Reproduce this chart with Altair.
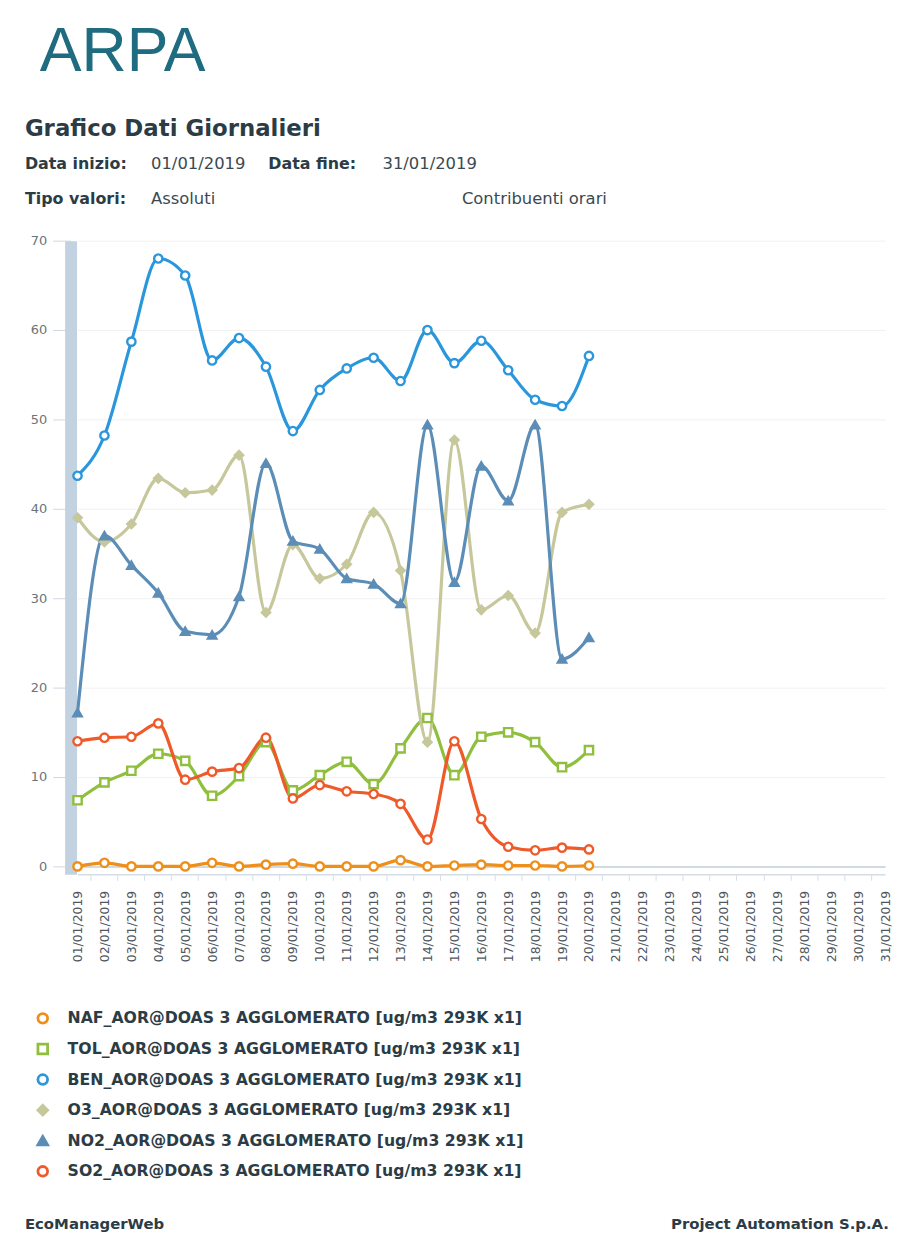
import altair as alt
import pandas as pd

# ---------------- data ----------------
days = [f"{d:02d}/01/2019" for d in range(1, 32)]

series_names = [
    "NAF_AOR@DOAS 3 AGGLOMERATO [ug/m3 293K x1]",
    "TOL_AOR@DOAS 3 AGGLOMERATO [ug/m3 293K x1]",
    "BEN_AOR@DOAS 3 AGGLOMERATO [ug/m3 293K x1]",
    "O3_AOR@DOAS 3 AGGLOMERATO [ug/m3 293K x1]",
    "NO2_AOR@DOAS 3 AGGLOMERATO [ug/m3 293K x1]",
    "SO2_AOR@DOAS 3 AGGLOMERATO [ug/m3 293K x1]",
]

naf = [0.0, 0.4, 0.0, 0.0, 0.0, 0.4, 0.0, 0.2, 0.3, 0.0,
       0.0, 0.0, 0.7, 0.0, 0.1, 0.2, 0.1, 0.1, 0.0, 0.1]
tol = [7.4, 9.4, 10.7, 12.6, 11.8, 7.9, 10.1, 13.9, 8.5, 10.2,
       11.7, 9.2, 13.2, 16.6, 10.2, 14.5, 15.0, 13.9, 11.1, 13.0]
ben = [43.7, 48.2, 58.7, 68.0, 66.1, 56.6, 59.1, 55.9, 48.7, 53.3,
       55.7, 56.9, 54.3, 60.0, 56.3, 58.8, 55.5, 52.2, 51.5, 57.1]
o3 = [39.0, 36.3, 38.3, 43.4, 41.8, 42.1, 46.0, 28.4, 36.0, 32.2,
      33.8, 39.6, 33.1, 13.9, 47.7, 28.7, 30.3, 26.1, 39.6, 40.5]
no2 = [17.2, 37.0, 33.7, 30.6, 26.3, 25.9, 30.2, 45.1, 36.4, 35.5,
       32.2, 31.6, 29.4, 49.4, 31.8, 44.8, 40.9, 49.4, 23.2, 25.6]
so2 = [14.0, 14.4, 14.5, 16.0, 9.7, 10.6, 11.0, 14.4, 7.6, 9.1,
       8.4, 8.1, 7.0, 3.0, 14.0, 5.3, 2.2, 1.8, 2.1, 1.9]

series_values = [naf, tol, ben, o3, no2, so2]

y_ticks = [0, 10, 20, 30, 40, 50, 60, 70]

logo_text = "ARPA"
title_text = "Grafico Dati Giornalieri"
start_label = "Data inizio:"
start_value = "01/01/2019"
end_label = "Data fine:"
end_value = "31/01/2019"
type_label = "Tipo valori:"
type_value = "Assoluti"
contrib_text = "Contribuenti orari"
footer_left = "EcoManagerWeb"
footer_right = "Project Automation S.p.A."

# ---------------- styling ----------------
colors = ["#ee8f1b", "#8fbf3c", "#2a96dc", "#c6c89c", "#5b8db7", "#ef5a2a"]
fills = ["#ffffff", "#ffffff", "#ffffff", "#c6c89c", "#5b8db7", "#ffffff"]
shapes = ["circle", "square", "circle", "diamond", "triangle-up", "circle"]

FONT = "DejaVu Sans"
DARK = "#2c3c45"
VALUE = "#3b4a52"

rows = []
for name, vals in zip(series_names, series_values):
    for d, v in zip(days, vals):
        rows.append({"day": d, "value": v, "series": name})
df = pd.DataFrame(rows)
legend_df = pd.DataFrame({"series": series_names})

stroke_scale = alt.Scale(domain=series_names, range=colors)
fill_scale = alt.Scale(domain=series_names, range=fills)
shape_scale = alt.Scale(domain=series_names, range=shapes)

x_enc = alt.X(
    "day:O",
    scale=alt.Scale(type="point", domain=days, range=[7, 820], padding=0),
    axis=alt.Axis(
        title=None, labelAngle=270, labelFont=FONT, labelFontSize=12.5,
        labelColor="#4f585e", labelPadding=10, domainColor="#d5dee7",
        domainWidth=1.5, tickColor="#d5dee7", tickSize=6,
        tickOffset=13, labelOffset=-13, grid=False,
    ),
)
y_enc = alt.Y(
    "value:Q",
    scale=alt.Scale(domain=[-0.889, 70], nice=False, zero=False),
    axis=alt.Axis(
        title=None, values=y_ticks, labelFont=FONT, labelFontSize=13,
        labelColor="#6b7378", labelPadding=6, tickSize=18,
        tickColor="#cfd8e1", domainColor="#c3d2e1", domainWidth=12,
        grid=True,
        gridColor={"condition": {"test": "datum.value === 0", "value": "#cfdae5"},
                   "value": "#f1f1f1"},
        gridWidth={"condition": {"test": "datum.value === 0", "value": 2},
                   "value": 1},
    ),
)

lines = alt.Chart(df).mark_line(interpolate="monotone", strokeWidth=3.2).encode(
    x=x_enc, y=y_enc,
    color=alt.Color("series:N", scale=stroke_scale, legend=None),
)

points = alt.Chart(df).mark_point(filled=True, size=70, strokeWidth=2.4, opacity=1).encode(
    x=x_enc, y=y_enc,
    stroke=alt.Stroke("series:N", scale=stroke_scale, legend=None),
    fill=alt.Fill("series:N", scale=fill_scale, legend=None),
    shape=alt.Shape("series:N", scale=shape_scale, legend=None),
)

plot = alt.layer(lines, points)

# custom legend (rows drawn through an ordinal scale)
leg_y = alt.Y("series:N", scale=alt.Scale(type="point", domain=series_names,
                                          range=[783, 937], padding=0), axis=None)

legend_symbols = alt.Chart(legend_df).mark_point(
    filled=True, size=95, strokeWidth=2.8, opacity=1
).encode(
    x=alt.value(-28), y=leg_y,
    stroke=alt.Stroke("series:N", scale=stroke_scale, legend=None),
    fill=alt.Fill("series:N", scale=fill_scale, legend=None),
    shape=alt.Shape("series:N", scale=shape_scale, legend=None),
)
legend_labels = alt.Chart(legend_df).mark_text(
    align="left", baseline="middle", font=FONT, fontSize=15.8,
    fontWeight="bold", color=DARK,
).encode(x=alt.value(-3), y=leg_y, text="series:N")


def label(text, x, y, size=13, weight="normal", color=DARK, align="left", font=FONT):
    return alt.Chart(pd.DataFrame({"t": [text]})).mark_text(
        align=align, baseline="alphabetic", font=font, fontSize=size,
        fontWeight=weight, color=color,
    ).encode(text="t:N", x=alt.value(x), y=alt.value(y))


texts = [
    label(logo_text, -31, -171, size=63, weight="normal", color="#1f6c80",
          font="Liberation Sans"),
    label(title_text, -46, -105, size=23, weight="bold"),
    label(start_label, -46, -72, size=16, weight="bold"),
    label(start_value, 81, -72, size=16.5, color=VALUE),
    label(end_label, 199, -72, size=16, weight="bold"),
    label(end_value, 314, -72, size=16.5, color=VALUE),
    label(type_label, -46, -37, size=16, weight="bold"),
    label(type_value, 81, -37, size=16.5, color=VALUE),
    label(contrib_text, 394, -37, size=16.5, color=VALUE),
    label(footer_left, -46, 995, size=15, weight="bold"),
    label(footer_right, 824, 995, size=15, weight="bold", align="right"),
]

chart = alt.layer(plot, legend_symbols, legend_labels, *texts).resolve_scale(
    y="independent"
).properties(
    width=822, height=638,
    padding={"left": 63, "top": 230, "right": 6, "bottom": 375},
    autosize=alt.AutoSizeParams(type="none"),
).configure(background="#ffffff").configure_view(stroke=None)

chart.save("out.html", embed_options={"renderer": "svg", "actions": False})
